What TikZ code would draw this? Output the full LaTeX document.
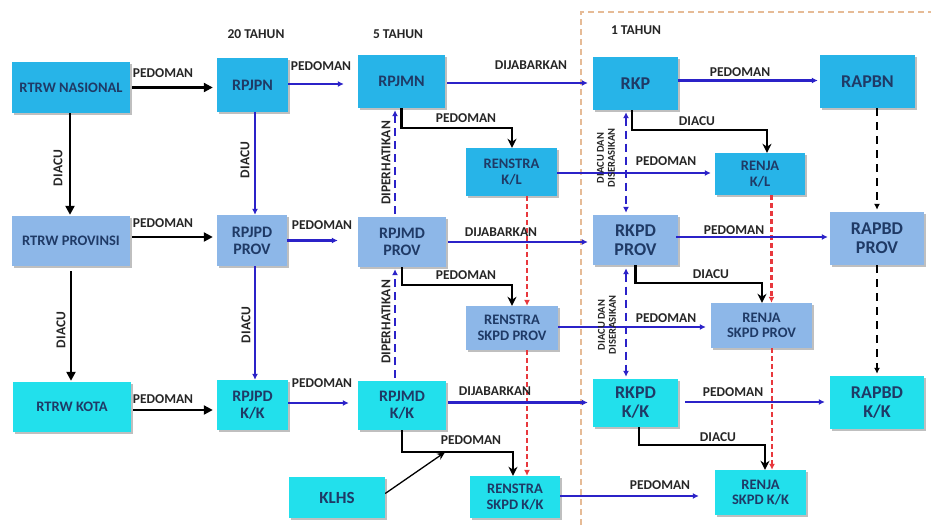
\documentclass[tikz,border=0pt]{standalone}
\usepackage{fontspec}
\setmainfont{Carlito}
\usetikzlibrary{arrows.meta,shadows,calc}
\definecolor{natc}{HTML}{27B4E8}
\definecolor{provc}{HTML}{8DB7E8}
\definecolor{kotac}{HTML}{22E0EC}
\definecolor{navyc}{HTML}{1F3A66}
\definecolor{arrblue}{HTML}{2B22C8}
\definecolor{redc}{HTML}{E8383D}
\definecolor{framec}{HTML}{E6BB96}
\begin{document}
\begin{tikzpicture}[x=1pt,y=-1pt,
  box/.style={rectangle, inner sep=1pt, align=center, text=navyc,
    font=\bfseries\fontsize{16}{17}\selectfont,
    drop shadow={shadow xshift=1.5pt, shadow yshift=-1.5pt, opacity=0.25, fill=black}},
  nat/.style={box, fill=natc},
  prov/.style={box, fill=provc},
  kota/.style={box, fill=kotac},
  small/.style={font=\bfseries\fontsize{14.5}{15.5}\selectfont},
  lbl/.style={font=\bfseries\fontsize{13.5}{14}\selectfont, text=black!85, inner sep=0pt},
  lbltwo/.style={font=\bfseries\fontsize{10.5}{11}\selectfont, text=black!85, inner sep=0pt, align=center},
  blk/.style={draw=black, line width=2.2pt, -{Triangle[length=9pt,width=9pt]}, shorten >=4pt},
  elb/.style={draw=black, line width=2.2pt, -{Stealth[length=9pt,width=9pt]}},
  blu/.style={draw=arrblue, line width=2.2pt, -{Latex[length=6pt,width=6pt]}},
  reddash/.style={draw=redc, line width=2.2pt, dash pattern=on 5pt off 3pt, -{Latex[length=6pt,width=6pt]}},
  bdash/.style={draw=arrblue, line width=2.2pt, dash pattern=on 8pt off 5pt},
  kdash/.style={draw=black, line width=2.2pt, dash pattern=on 8pt off 6pt, -{Latex[length=6pt,width=6pt]}},
  bhead/.style={-{Latex[length=6pt,width=6pt]}},
  bboth/.style={{Latex[length=6pt,width=6pt]}-{Latex[length=6pt,width=6pt]}}
]
\useasboundingbox (0,0) rectangle (931,525);
\fill[white] (0,0) rectangle (931,525);

% frame of 1 TAHUN
\draw[framec, line width=1.5pt, dash pattern=on 6pt off 4pt] (581,525) -- (581,12) -- (931,12);

% headings
\node[lbl] (h20) at (256,34) {20 TAHUN};
\node[lbl] (h5) at (398,34) {5 TAHUN};
\node[lbl] (h1) at (636,30) {1 TAHUN};

% national row
\node[nat, minimum width=118pt, minimum height=51pt, font=\bfseries\fontsize{14.5}{15}\selectfont] (rtrwn) at (71,87.5) {RTRW NASIONAL};
\node[nat, minimum width=71pt, minimum height=54pt] (rpjpn) at (252.5,85) {RPJPN};
\node[nat, minimum width=87pt, minimum height=53pt] (rpjmn) at (401.5,81.5) {RPJMN};
\node[nat, minimum width=85pt, minimum height=53pt, font=\bfseries\fontsize{18}{19}\selectfont] (rkp) at (635.5,83.5) {RKP};
\node[nat, minimum width=95pt, minimum height=53pt, font=\bfseries\fontsize{18}{19}\selectfont] (rapbn) at (867.5,81.5) {RAPBN};
\node[nat, minimum width=91pt, minimum height=48pt, small] (renstrakl) at (511.5,172) {RENSTRA\\K/L};
\node[nat, minimum width=90pt, minimum height=42pt, small] (renjakl) at (760,174) {RENJA\\K/L};

% province row
\node[prov, minimum width=118pt, minimum height=50pt, font=\bfseries\fontsize{14.5}{15}\selectfont] (rtrwp) at (71,241) {RTRW PROVINSI};
\node[prov, minimum width=70pt, minimum height=51pt] (rpjpdp) at (252,240.5) {RPJPD\\PROV};
\node[prov, minimum width=88pt, minimum height=50pt] (rpjmdp) at (402,242) {RPJMD\\PROV};
\node[prov, minimum width=85pt, minimum height=50pt, font=\bfseries\fontsize{18}{19}\selectfont] (rkpdp) at (635.5,240) {RKPD\\PROV};
\node[prov, minimum width=94pt, minimum height=53pt, font=\bfseries\fontsize{18}{19}\selectfont] (rapbdp) at (877,238.5) {RAPBD\\PROV};
\node[prov, minimum width=92pt, minimum height=44pt, small] (renstrap) at (512,328) {RENSTRA\\SKPD PROV};
\node[prov, minimum width=101pt, minimum height=45pt, small] (renjap) at (761.5,325.5) {RENJA\\SKPD PROV};

% kota row
\node[kota, minimum width=118pt, minimum height=50pt, font=\bfseries\fontsize{14.5}{15}\selectfont] (rtrwk) at (72,407) {RTRW KOTA};
\node[kota, minimum width=71pt, minimum height=50pt] (rpjpdk) at (252.5,405) {RPJPD\\K/K};
\node[kota, minimum width=88pt, minimum height=49pt] (rpjmdk) at (402,405.5) {RPJMD\\K/K};
\node[kota, minimum width=85pt, minimum height=48pt, font=\bfseries\fontsize{18}{19}\selectfont] (rkpdk) at (635.5,403) {RKPD\\K/K};
\node[kota, minimum width=94pt, minimum height=53pt, font=\bfseries\fontsize{18}{19}\selectfont] (rapbdk) at (877,402.5) {RAPBD\\K/K};
\node[kota, minimum width=90pt, minimum height=42pt, small] (renstrak) at (515,497) {RENSTRA\\SKPD K/K};
\node[kota, minimum width=91pt, minimum height=45pt, small] (renjak) at (760.5,492.5) {RENJA\\SKPD K/K};
\node[kota, minimum width=96pt, minimum height=41pt, font=\bfseries\fontsize{17}{18}\selectfont] (klhs) at (337,497.5) {KLHS};

% red dashed (behind)
\draw[reddash] ([xshift=15.5pt]renstrakl.south) -- ([xshift=15.5pt]renstrakl.south |- renstrap.north);
\draw[reddash] ([xshift=11.5pt]renjakl.south) -- ([xshift=11.5pt]renjakl.south |- renjap.north);
\draw[reddash] ([xshift=15pt]renstrap.south) -- ([xshift=15pt]renstrap.south |- renstrak.north);
\draw[reddash] ([xshift=10.5pt]renjap.south) -- ([xshift=10.5pt]renjap.south |- renjak.north);

% black dashed
\draw[kdash, shorten >=2pt] (rapbn.south -| rapbdp.north) -- (rapbdp.north);
\draw[kdash, shorten >=2pt] (rapbdp.south) -- (rapbdk.north);

% left column
\draw[blk, shorten <=2pt] (rtrwn.east) -- (rtrwn.east -| rpjpn.west);
\draw[blk, shorten <=2pt] ([yshift=4pt]rtrwp.east) -- ([yshift=4pt]rtrwp.east -| rpjpdp.west);
\draw[blk, shorten <=2pt] ([yshift=-3pt]rtrwk.east) -- ([yshift=-3pt]rtrwk.east -| rpjpdk.west);
\draw[blk, shorten >=1pt] ([xshift=-1pt]rtrwn.south) -- ([xshift=-1pt]rtrwn.south |- rtrwp.north);
\draw[blk, shorten >=1pt, shorten <=5pt] (rtrwp.south) -- (rtrwp.south |- rtrwk.north);

% RPJP column
\draw[blu] ([xshift=2.5pt]rpjpn.south) -- ([xshift=2.5pt]rpjpn.south |- rpjpdp.north);
\draw[blu] ([xshift=2.5pt]rpjpn.south |- rpjpdp.south) -- ([xshift=2.5pt]rpjpn.south |- rpjpdk.north);
\draw[blu, shorten >=14pt] ([yshift=1pt]rpjpn.east) -- ([yshift=1pt]rpjpn.east -| rpjmn.west);
\draw[blu, shorten >=20pt] (rpjpdp.east) -- (rpjpdp.east -| rpjmdp.west);
\draw[blu, shorten >=9pt] ([yshift=2pt]rpjpdk.east) -- ([yshift=2pt]rpjpdk.east -| rpjmdk.west);

% RPJM column
\draw[blu, shorten <=2pt, shorten >=5pt] ([yshift=-1.5pt]rpjmn.east) -- ([yshift=-1.5pt]rpjmn.east -| rkp.west);
\draw[blu, shorten <=2pt, shorten >=5pt] (rpjmdp.east) -- (rpjmdp.east -| rkpdp.west);
\draw[blu, shorten <=2pt, shorten >=5pt] ([yshift=3pt]rpjmdk.east) -- ([yshift=3pt]rpjmdk.east -| rkpdk.west);
\draw[bdash, bhead, shorten <=3pt, shorten >=2pt] ([xshift=-7pt]rpjmdp.north) -- ([xshift=-7pt]rpjmdp.north |- rpjmn.south);
\draw[bdash, bhead, shorten <=3pt, shorten >=2pt] ([xshift=-7pt]rpjmdk.north) -- ([xshift=-7pt]rpjmdk.north |- rpjmdp.south);

\draw[elb] (rpjmn.south) -- ++(0,20) -| ([xshift=0.5pt]renstrakl.north);
\draw[elb] (rpjmdp.south) -- ++(0,18) -| (renstrap.north);
\draw[elb] (rpjmdk.south) -- ++(0,22) -| ([xshift=-2pt]renstrak.north);
\coordinate (kend) at ($(rpjmdk.south)+(43,22)$);
\draw[draw=black, line width=1.3pt, -{Stealth[length=8pt,width=7pt]}] ([yshift=4pt]klhs.east) -- (kend);

% Renstra -> Renja
\draw[blu, shorten >=4pt] ([yshift=-1pt]renstrakl.east) -- ([yshift=-1pt]renstrakl.east -| renjakl.west);
\draw[blu, shorten >=5pt] ([yshift=1pt]renstrap.east) -- ([yshift=1pt]renstrap.east -| renjap.west);
\draw[blu, shorten >=16pt] ([yshift=1pt]renstrak.east) -- ([yshift=1pt]renstrak.east -| renjak.west);

% RKP column
\draw[blu, shorten >=2pt] ([yshift=3pt]rkp.east) -- ([yshift=3pt]rkp.east -| rapbn.west);
\draw[blu, shorten >=2pt, shorten <=-2pt] ([yshift=3pt]rkpdp.east) -- ([yshift=3pt]rkpdp.east -| rapbdp.west);
\draw[blu, shorten >=5pt, shorten <=7pt] ([yshift=1pt]rkpdk.east) -- ([yshift=1pt]rkpdk.east -| rapbdk.west);
\draw[bdash, bboth, shorten <=2pt, shorten >=2pt] ([xshift=-9.5pt]rkp.south) -- ([xshift=-9.5pt]rkp.south |- rkpdp.north);
\draw[bdash, bboth, shorten <=3pt, shorten >=2pt] ([xshift=-9.5pt]rkpdp.south) -- ([xshift=-9.5pt]rkpdp.south |- rkpdk.north);

\draw[elb] ([xshift=-3.5pt]rkp.south) -- ++(0,20) -| ([xshift=7pt]renjakl.north);
\draw[elb] (rkpdp.south) -- ++(0,18) -| ([xshift=0.5pt]renjap.north);
\draw[elb] ([xshift=3.5pt]rkpdk.south) -- ++(0,18) -| ([xshift=4.5pt]renjak.north);

% labels
\node[lbl] (l1) at (163,73) {PEDOMAN};
\node[lbl] (l2) at (321,66) {PEDOMAN};
\node[lbl] (l3) at (531,65) {DIJABARKAN};
\node[lbl] (l4) at (740,72) {PEDOMAN};
\node[lbl] (l5) at (466,118) {PEDOMAN};
\node[lbl] (l6) at (697,121) {DIACU};
\node[lbl] (l7) at (666,161) {PEDOMAN};
\node[lbl, rotate=90] (l8) at (58,168) {DIACU};
\node[lbl, rotate=90] (l9) at (245,160) {DIACU};
\node[lbl, rotate=90] (l10) at (386,163) {DIPERHATIKAN};
\node[lbltwo, rotate=90] (l11) at (606,158) {DIACU DAN\\DISERASIKAN};

\node[lbl] (l12) at (163,223) {PEDOMAN};
\node[lbl] (l13) at (322,225) {PEDOMAN};
\node[lbl] (l14) at (501,232) {DIJABARKAN};
\node[lbl] (l15) at (734,230) {PEDOMAN};
\node[lbl] (l16) at (466,275) {PEDOMAN};
\node[lbl] (l17) at (711,274) {DIACU};
\node[lbl] (l18) at (666,318) {PEDOMAN};
\node[lbl, rotate=90] (l19) at (61,330) {DIACU};
\node[lbl, rotate=90] (l20) at (246,325) {DIACU};
\node[lbl, rotate=90] (l21) at (386,322) {DIPERHATIKAN};
\node[lbltwo, rotate=90] (l22) at (607,325) {DIACU DAN\\DISERASIKAN};

\node[lbl] (l23) at (163,399) {PEDOMAN};
\node[lbl] (l24) at (322,383) {PEDOMAN};
\node[lbl] (l25) at (495,391) {DIJABARKAN};
\node[lbl] (l26) at (733,392) {PEDOMAN};
\node[lbl] (l27) at (471,440) {PEDOMAN};
\node[lbl] (l28) at (718,437) {DIACU};
\node[lbl] (l29) at (660,485) {PEDOMAN};
\end{tikzpicture}
\end{document}
